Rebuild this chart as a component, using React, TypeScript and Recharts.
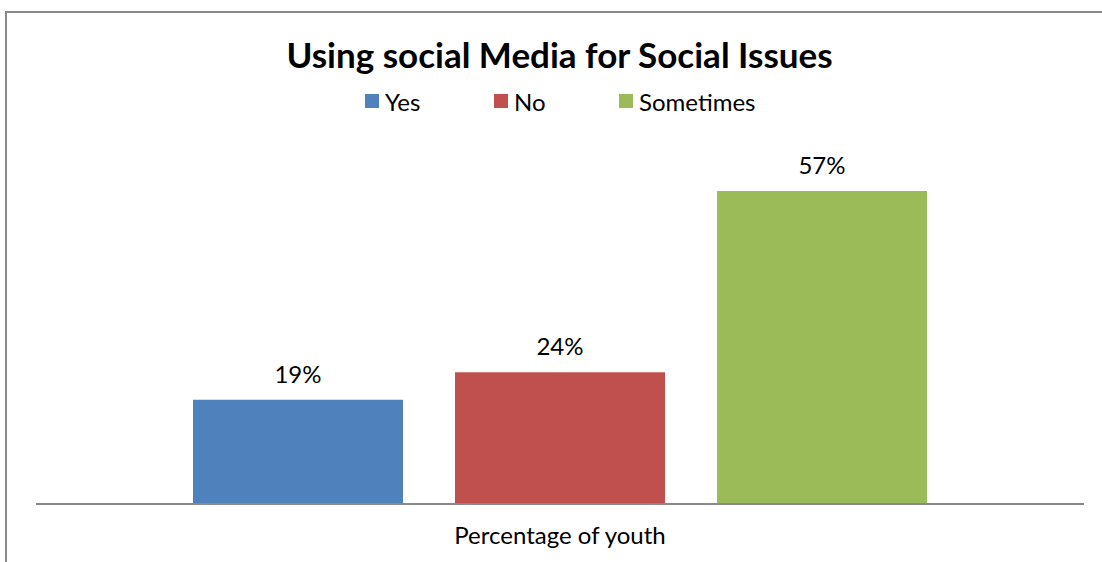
import { Bar, BarChart, LabelList, XAxis, YAxis } from 'recharts';

const CATEGORIES = ['Percentage of youth'];
const SERIES_NAMES = ['Yes', 'No', 'Sometimes'];
const SERIES_VALUES = [0.19, 0.24, 0.57];
const SERIES_COLORS = ['#4F81BD', '#C0504D', '#9BBB59'];
const TITLE = 'Using social Media for Social Issues';

const FONT = 'Lato, Calibri, "Open Sans", sans-serif';
const LEGEND_LEFTS = [365, 494, 619];

const chartData = CATEGORIES.map((category) => {
  const row: Record<string, string | number> = { category };
  SERIES_NAMES.forEach((name, idx) => {
    row[name] = SERIES_VALUES[idx];
  });
  return row;
});

const formatPct = (v: unknown) => `${Math.round(Number(v) * 100)}%`;

export default function App() {
  return (
    <div style={{ position: 'absolute', left: 0, top: 0, width: 1102, height: 562, background: '#fff', overflow: 'hidden' }}>
      <div
        style={{
          position: 'absolute',
          left: 5,
          top: 11,
          width: 1200,
          height: 600,
          borderLeft: '2px solid #898989',
          borderTop: '2px solid #898989',
        }}
      />
      <div
        style={{
          position: 'absolute',
          left: 0,
          top: 33,
          width: 1119,
          textAlign: 'center',
          fontFamily: FONT,
          fontWeight: 700,
          fontSize: 35,
          lineHeight: '42px',
          color: '#000',
        }}
      >
        {TITLE}
      </div>
      {SERIES_NAMES.map((name, idx) => (
        <div
          key={name}
          style={{
            position: 'absolute',
            left: LEGEND_LEFTS[idx],
            top: 87,
            height: 28,
            display: 'flex',
            alignItems: 'center',
            fontFamily: FONT,
            fontSize: 24,
            color: '#000',
            whiteSpace: 'nowrap',
          }}
        >
          <span style={{ width: 14, height: 14, background: SERIES_COLORS[idx], marginRight: 6, display: 'inline-block' }} />
          <span>{name}</span>
        </div>
      ))}
      <div style={{ position: 'absolute', left: 0, top: 0 }}>
        <BarChart
          width={1102}
          height={562}
          data={chartData}
          margin={{ top: 174.5, right: 18, bottom: 0, left: 36 }}
          barGap={52}
          barSize={210}
        >
          <XAxis
            dataKey="category"
            axisLine={{ stroke: '#898989', strokeWidth: 2 }}
            tickLine={false}
            tickMargin={17}
            height={58}
            tick={{ fontFamily: FONT, fontSize: 24, fill: '#000' }}
          />
          <YAxis hide domain={[0, 0.6]} />
          {SERIES_NAMES.map((name, idx) => (
            <Bar key={name} dataKey={name} fill={SERIES_COLORS[idx]} isAnimationActive={false}>
              <LabelList
                dataKey={name}
                position="top"
                offset={17}
                formatter={formatPct}
                style={{ fontFamily: FONT, fontSize: 24, fill: '#000' }}
              />
            </Bar>
          ))}
        </BarChart>
      </div>
    </div>
  );
}
